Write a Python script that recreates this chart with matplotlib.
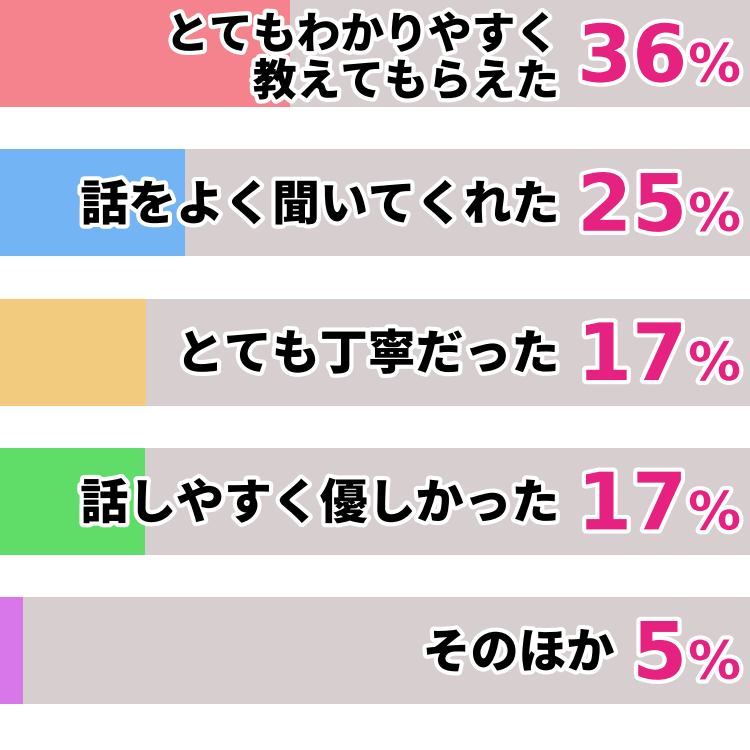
import numpy as np
import matplotlib
matplotlib.use('Agg')
import matplotlib.pyplot as plt
import matplotlib.patheffects as pe
import matplotlib.transforms as mtransforms

# data
labels = ['とてもわかりやすく\n教えてもらえた', '話をよく聞いてくれた', 'とても丁寧だった',
          '話しやすく優しかった', 'そのほか']
pct_values = [36, 25, 17, 17, 5]
fill_share = [38.7, 24.7, 19.5, 19.3, 3.1]   # coloured part of each bar, % of full width
bar_colors = ['#f5838e', '#73b4f5', '#f3cb7e', '#60dd68', '#d877ea']
track_color = '#d7cecf'
pct_color = '#e6217f'

fig = plt.figure(figsize=(7.5, 7.5), dpi=100)
ax = fig.add_axes([0, 0, 1, 1])
y = np.arange(len(labels))
ax.barh(y, 100, height=0.717, color=track_color, linewidth=0)
ax.barh(y, fill_share, height=0.717, color=bar_colors, linewidth=0)
ax.set_xlim(0, 100)
ax.set_ylim(4.665, -0.358)
ax.axis('off')

fig.canvas.draw()
r = fig.canvas.get_renderer()
px = mtransforms.IdentityTransform()
stroke = [pe.withStroke(linewidth=6, foreground='white')]

for i in range(len(labels)):
    yc = ax.transData.transform((0, i))[1]
    base = yc - 28
    t_pc = fig.text(741, base, '%', ha='right', va='baseline', transform=px,
                    fontsize=38, fontweight='bold', family='DejaVu Sans',
                    color=pct_color, path_effects=stroke)
    bb = t_pc.get_window_extent(r)
    t_num = fig.text(bb.x0 - 1, base, str(pct_values[i]), ha='right', va='baseline',
                     transform=px, fontsize=57, fontweight='bold', family='DejaVu Sans',
                     color=pct_color, path_effects=stroke)
    bb = t_num.get_window_extent(r)
    two_lines = '\n' in labels[i]
    fig.text(bb.x0 - 18, yc - (5 if two_lines else 3), labels[i], ha='right',
             va='center', ma='right', transform=px,
             fontsize=31.5 if two_lines else 34.5, fontweight='black',
             family=['Noto Sans CJK JP', 'DejaVu Sans'], color='black',
             linespacing=1.05, path_effects=stroke)

fig.savefig('out.png', dpi=100)
